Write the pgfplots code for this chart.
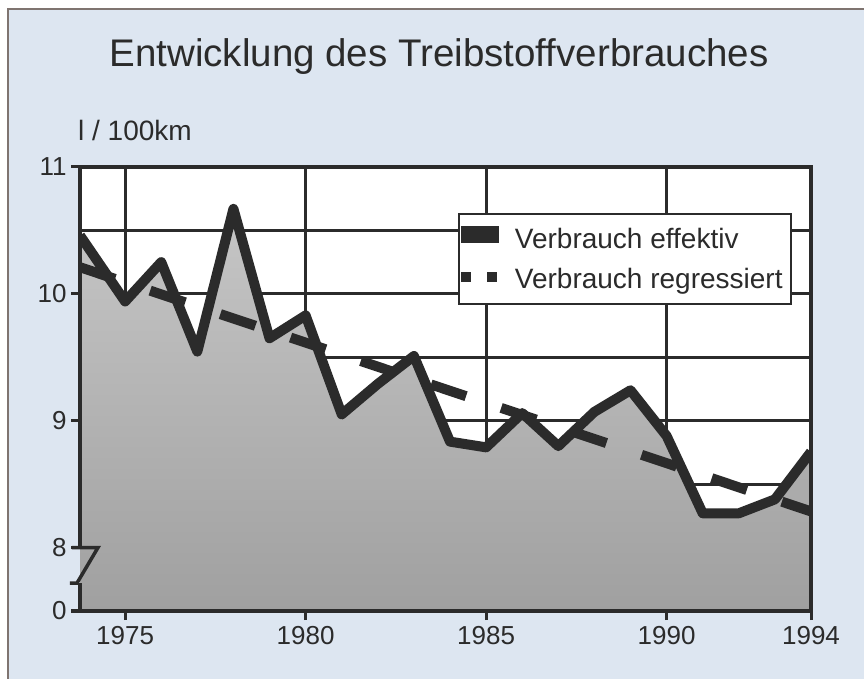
\documentclass[border=0pt]{standalone}
\usepackage{fontspec}
\setmainfont{Liberation Sans}
\usepackage{pgfplots}
\pgfplotsset{compat=1.18}
\definecolor{bgblue}{HTML}{DDE6F1}
\definecolor{inkdark}{HTML}{2B2B2B}
\definecolor{framegray}{HTML}{7F7470}
\definecolor{fillTop}{HTML}{C6C6C6}
\definecolor{fillBot}{HTML}{A0A0A0}
\begin{document}
\begin{tikzpicture}
\useasboundingbox (0bp,0bp) rectangle (864bp,679bp);
\fill[white] (0bp,0bp) rectangle (864bp,679bp);
\fill[bgblue] (8bp,0bp) rectangle (864bp,670bp);
\draw[framegray, line width=2bp] (8bp,0bp) -- (8bp,670bp) -- (864bp,670bp);
\node[anchor=base, inner sep=0pt, font=\fontsize{38.5bp}{44bp}\selectfont, text=inkdark] at (439bp,612bp) {Entwicklung des Treibstoffverbrauches};
\node[anchor=base west, inner sep=0pt, font=\fontsize{28bp}{32bp}\selectfont, text=inkdark] at (78bp,538bp) {l / 100km};
\begin{axis}[
  at={(80bp,68bp)}, anchor=south west,
  scale only axis, width=731bp, height=444bp,
  xmin=1973.75, xmax=1994, ymin=7.5, ymax=11,
  clip mode=individual,
  axis line style={draw=none},
  axis background/.style={fill=white},
  xtick={1975,1980,1985,1990,1994}, xticklabels={1975,1980,1985,1990,1994},
  ytick={7.5,8,9,10,11}, yticklabels={0,8,9,10,11},
  minor ytick={8.5,9.5,10.5},
  xmajorgrids, ymajorgrids, yminorgrids,
  major grid style={line width=3bp, inkdark},
  minor grid style={line width=3bp, inkdark},
  tick align=outside, tick pos=left,
  major tick length=9bp, minor tick length=0pt,
  major tick style={line width=3bp, inkdark},
  tick label style={font=\fontsize{26bp}{31bp}\selectfont, text=inkdark},
  xticklabel style={yshift=-3bp},
  yticklabel style={xshift=-1bp},
  legend style={at={(0.517,0.896)}, anchor=north west, draw=inkdark, line width=2bp,
    fill=white, inner xsep=2bp, inner ysep=8bp, row sep=6bp,
    font=\fontsize{28bp}{32bp}\selectfont, text=inkdark, nodes={inner sep=6bp}},
  legend cell align=left,
]
\addplot[draw=none, top color=fillTop, bottom color=fillBot, forget plot] coordinates {
  (1973.75,7.5) (1973.75,10.46) (1975,9.94) (1976,10.25) (1977,9.545) (1978,10.67)
  (1979,9.65) (1980,9.83) (1981,9.05) (1982,9.29) (1983,9.51) (1984,8.835)
  (1985,8.79) (1986,9.06) (1987,8.80) (1988,9.07) (1989,9.24) (1990,8.88)
  (1991,8.27) (1992,8.27) (1993,8.38) (1994,8.755) (1994,7.5)};
\addplot[inkdark, line width=10bp, line join=round,
  legend image code/.code={\path[fill=inkdark, draw=none] (0bp,-4.3bp) rectangle (38bp,12.7bp); \path[draw=none, fill=none] (38bp,0bp) -- (48bp,0bp);}] coordinates {
  (1973.75,10.46) (1975,9.94) (1976,10.25) (1977,9.545) (1978,10.67)
  (1979,9.65) (1980,9.83) (1981,9.05) (1982,9.29) (1983,9.51) (1984,8.835)
  (1985,8.79) (1986,9.06) (1987,8.80) (1988,9.07) (1989,9.24) (1990,8.88)
  (1991,8.27) (1992,8.27) (1993,8.38) (1994,8.755)};
\addlegendentry{Verbrauch effektiv}
\addplot[inkdark, line width=10bp, dash pattern=on 37bp off 37bp,
  legend image code/.code={\path[fill=inkdark, draw=none] (0bp,-3.3bp) rectangle (10bp,6.7bp); \path[fill=inkdark, draw=none] (26bp,-3.3bp) rectangle (36bp,6.7bp); \path[draw=none, fill=none] (36bp,0bp) -- (48bp,0bp);}] coordinates {
  (1973.75,10.21) (1994,8.285)};
\addlegendentry{Verbrauch regressiert}
\draw[inkdark, line width=4.5bp] (axis cs:1973.75,8) -- (axis cs:1973.75,11) -- (axis cs:1994,11) -- (axis cs:1994,7.5) -- (axis cs:1973.75,7.5) -- (axis cs:1973.75,7.72);
\draw[inkdark, line width=3.5bp] ([xshift=-8bp]axis cs:1973.75,8) -- ([xshift=18bp]axis cs:1973.75,8) -- ([xshift=-3bp]axis cs:1973.75,7.72) -- ([xshift=-10bp]axis cs:1973.75,7.72);
\end{axis}
\end{tikzpicture}
\end{document}
